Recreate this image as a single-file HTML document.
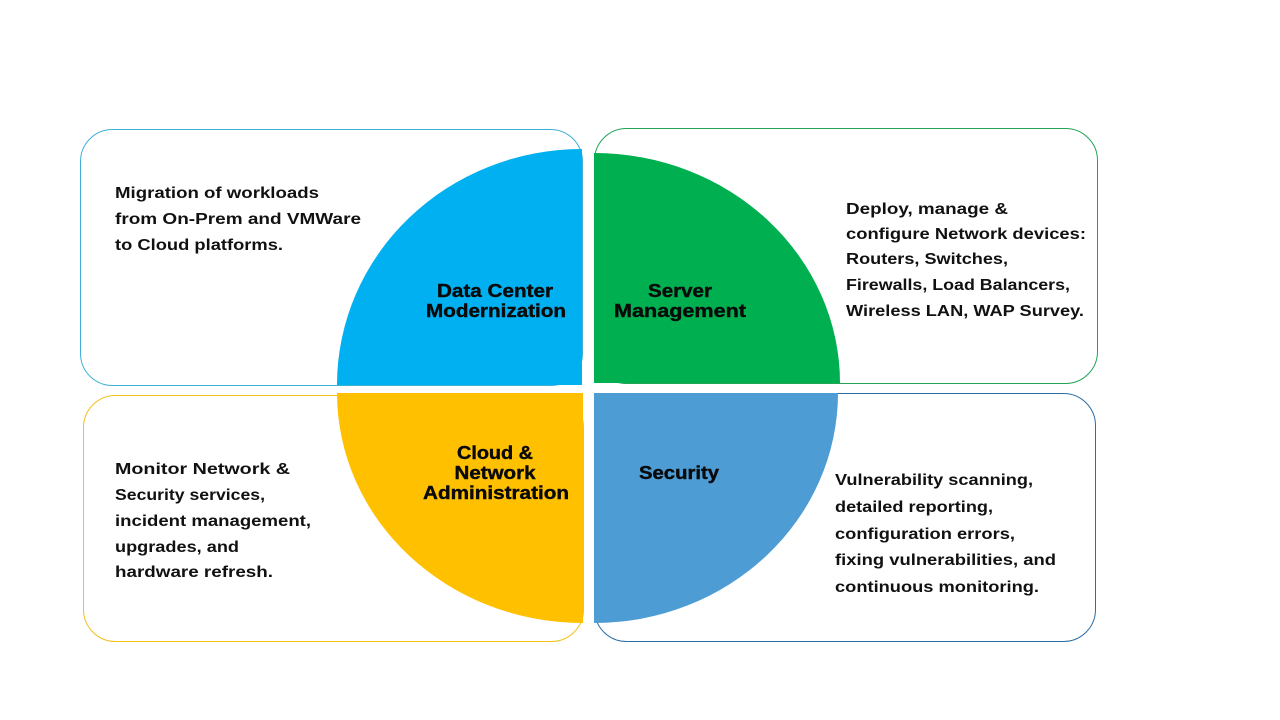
<!DOCTYPE html>
<html><head><meta charset="utf-8"><style>
html,body{margin:0;padding:0;background:#fff;}
svg{display:block}
.t{font-family:"Liberation Sans",Arial,sans-serif;font-weight:bold;font-size:16px;fill:#111;}
.l{font-family:"Liberation Sans",Arial,sans-serif;font-weight:bold;font-size:18px;fill:#0a0a0a;stroke:#0a0a0a;stroke-width:0.4;text-anchor:middle;}
</style></head><body>
<svg width="1280" height="720" viewBox="0 0 1280 720" xmlns="http://www.w3.org/2000/svg">
<rect width="1280" height="720" fill="#fff"/>
<rect x="80.5" y="129.5" width="502" height="256" rx="32" fill="#fff" stroke="#3fb0d8" stroke-width="1"/>
<rect x="594.5" y="128.5" width="503" height="255" rx="32" fill="#fff" stroke="#22a455" stroke-width="1"/>
<rect x="83.5" y="395.5" width="500" height="246" rx="32" fill="#fff" stroke="#f2c11a" stroke-width="1"/>
<rect x="594.5" y="393.5" width="501" height="248" rx="32" fill="#fff" stroke="#2b6ea6" stroke-width="1"/>
<path d="M582,385 L337,385 A245,236 0 0 1 582,149 Z" fill="#00b0f0"/>
<path d="M594,383 L594,153 A246,230 0 0 1 840,383 Z" fill="#00b050"/>
<path d="M583,393 L583,623 A246,230 0 0 1 337,393 Z" fill="#ffc000"/>
<path d="M594,393 L838,393 A244,230 0 0 1 594,623 Z" fill="#4e9cd4"/>
<text class="l" x="495" y="297" textLength="116" lengthAdjust="spacingAndGlyphs">Data Center</text>
<text class="l" x="496" y="317" textLength="140" lengthAdjust="spacingAndGlyphs">Modernization</text>
<text class="l" x="680" y="297" textLength="64" lengthAdjust="spacingAndGlyphs">Server</text>
<text class="l" x="680" y="317" textLength="132" lengthAdjust="spacingAndGlyphs">Management</text>
<text class="l" x="495" y="459" textLength="76" lengthAdjust="spacingAndGlyphs">Cloud &amp;</text>
<text class="l" x="495" y="479" textLength="81" lengthAdjust="spacingAndGlyphs">Network</text>
<text class="l" x="496" y="499" textLength="146" lengthAdjust="spacingAndGlyphs">Administration</text>
<text class="l" x="679" y="479" textLength="80" lengthAdjust="spacingAndGlyphs">Security</text>
<g class="t">
<text x="115" y="198" textLength="204" lengthAdjust="spacingAndGlyphs">Migration of workloads</text>
<text x="115" y="224" textLength="246" lengthAdjust="spacingAndGlyphs">from On-Prem and VMWare</text>
<text x="115" y="250" textLength="168" lengthAdjust="spacingAndGlyphs">to Cloud platforms.</text>
<text x="846" y="214" textLength="162" lengthAdjust="spacingAndGlyphs">Deploy, manage &amp;</text>
<text x="846" y="239" textLength="240" lengthAdjust="spacingAndGlyphs">configure Network devices:</text>
<text x="846" y="264" textLength="162" lengthAdjust="spacingAndGlyphs">Routers, Switches,</text>
<text x="846" y="290" textLength="224" lengthAdjust="spacingAndGlyphs">Firewalls, Load Balancers,</text>
<text x="846" y="316" textLength="238" lengthAdjust="spacingAndGlyphs">Wireless LAN, WAP Survey.</text>
<text x="115" y="474" textLength="175" lengthAdjust="spacingAndGlyphs">Monitor Network &amp;</text>
<text x="115" y="500" textLength="150" lengthAdjust="spacingAndGlyphs">Security services,</text>
<text x="115" y="526" textLength="196" lengthAdjust="spacingAndGlyphs">incident management,</text>
<text x="115" y="552" textLength="124" lengthAdjust="spacingAndGlyphs">upgrades, and</text>
<text x="115" y="577" textLength="158" lengthAdjust="spacingAndGlyphs">hardware refresh.</text>
<text x="835" y="485" textLength="198" lengthAdjust="spacingAndGlyphs">Vulnerability scanning,</text>
<text x="835" y="512" textLength="158" lengthAdjust="spacingAndGlyphs">detailed reporting,</text>
<text x="835" y="539" textLength="180" lengthAdjust="spacingAndGlyphs">configuration errors,</text>
<text x="835" y="565" textLength="221" lengthAdjust="spacingAndGlyphs">fixing vulnerabilities, and</text>
<text x="835" y="592" textLength="204" lengthAdjust="spacingAndGlyphs">continuous monitoring.</text>
</g>
</svg>
</body></html>
